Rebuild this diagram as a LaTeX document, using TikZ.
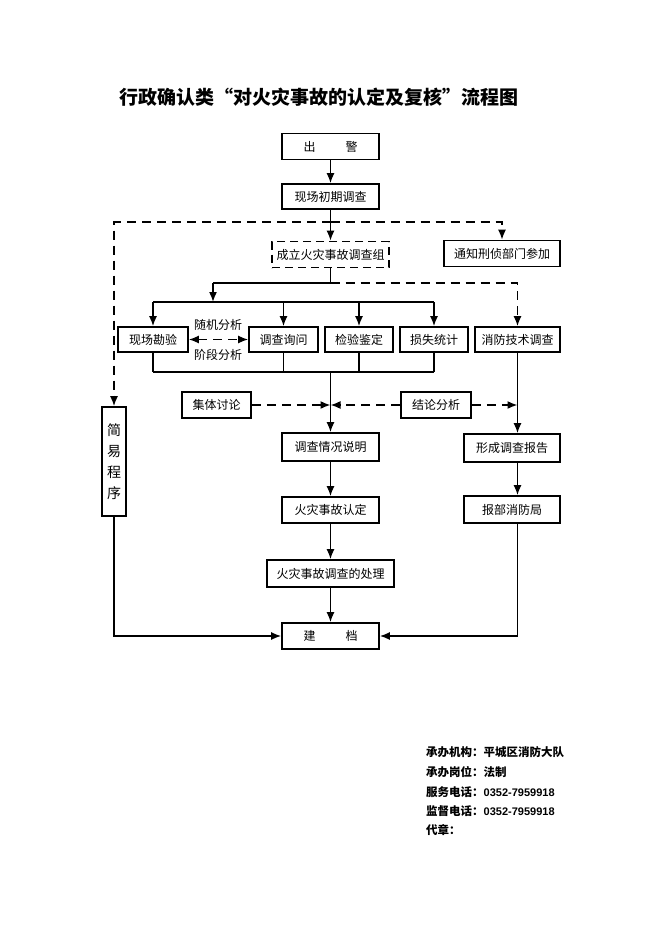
\documentclass[tikz,border=0pt]{standalone}
\usepackage{fontspec}
\newfontfamily\cjk{Noto Sans CJK SC}
\newfontfamily\num{Liberation Sans Bold}
\usetikzlibrary{arrows.meta}
\tikzset{
	box/.style={draw, line width=1.6pt, inner sep=0pt, minimum height=26pt, font=\cjk\fontsize{12}{14}\selectfont},
	dbox/.style={box, dash pattern=on 8pt off 5pt},
	arr/.style={-{Latex[length=10pt,width=8pt]}, line width=1.6pt},
	darr/.style={arr, dash pattern=on 9pt off 6pt},
	line/.style={line width=1.6pt},
	info/.style={anchor=west, inner sep=0pt, font=\cjk\bfseries\fontsize{11.5}{13}\selectfont}
}

\begin{document}
\begin{tikzpicture}[x=1pt,y=-1pt]
			\useasboundingbox (0,0) rectangle (662,936);
			\node (title) at (318.5,97) [font=\cjk\bfseries\fontsize{19}{21}\selectfont] {行政确认类“对火灾事故的认定及复核”流程图};
			%
			\node (chujing) at (330.5,146.5) [box, minimum width=97pt] {出\hspace{30pt}警};
			\node (chuqi) at (330.5,196.5) [box, minimum width=97pt, minimum height=25pt] {现场初期调查};
			\node (zu) at (330.5,254.5) [dbox, minimum width=117pt] {成立火灾事故调查组};
			\node (tongzhi) at (502,253.5) [box, minimum width=116pt] {通知刑侦部门参加};
			\node (kancha) at (153,339.5) [box, minimum width=70pt, minimum height=25pt] {现场勘验};
			\node (xunwen) at (283.5,339.5) [box, minimum width=69pt, minimum height=25pt] {调查询问};
			\node (jianyan) at (359,339.5) [box, minimum width=68pt, minimum height=25pt] {检验鉴定};
			\node (sunshi) at (434,339.5) [box, minimum width=68pt, minimum height=25pt] {损失统计};
			\node (jishu) at (517.5,339.5) [box, minimum width=85pt, minimum height=25pt] {消防技术调查};
			\node (suiji) at (218,325) [inner sep=0pt, font=\cjk\fontsize{12}{14}\selectfont] {随机分析};
			\node (jieduan) at (218,355) [inner sep=0pt, font=\cjk\fontsize{12}{14}\selectfont] {阶段分析};
			\node (taolun) at (216.5,405) [box, minimum width=69pt] {集体讨论};
			\node (jielun) at (436,405) [box, minimum width=70pt] {结论分析};
			\node (jianyi) at (114,461.5) [box, minimum width=24pt, minimum height=109pt, align=center, font=\cjk\fontsize{14}{21}\selectfont] {简\\易\\程\\序};
			\node (qingkuang) at (330.5,447) [box, minimum width=97pt, minimum height=28pt] {调查情况说明};
			\node (rending) at (330.5,510) [box, minimum width=97pt] {火灾事故认定};
			\node (chuli) at (330.5,573.5) [box, minimum width=127pt, minimum height=27pt] {火灾事故调查的处理};
			\node (jiandang) at (330.5,636) [box, minimum width=97pt] {建\hspace{30pt}档};
			\node (baogao) at (512,448) [box, minimum width=96pt, minimum height=28pt] {形成调查报告};
			\node (buju) at (512,509.5) [box, minimum width=96pt, minimum height=27pt] {报部消防局};
			%
			\coordinate (split1) at (330.5,222);
			\coordinate (split2) at (330.5,283);
			\coordinate (bus) at (213,302);
			\coordinate (join) at (330.5,372);
			%
			\draw[arr] (chujing) -- (chuqi);
			\draw[arr] (chuqi) -- (zu);
			\draw[darr] (split1) -| (tongzhi.north);
			\draw[darr] (split1) -| (jianyi.north);
			\draw[line] (zu.south) -- (split2) -| (bus |- split2);
			\draw[arr] (bus |- split2) -- (bus);
			\draw[darr] (split2) -| (jishu.north);
			\draw[line] (kancha.north |- bus) -- (sunshi.north |- bus);
			\foreach \n in {kancha,xunwen,jianyan,sunshi}{
					\draw[arr] (\n.north |- bus) -- (\n.north);
					\draw[line] (\n.south) -- (\n.south |- join);
				}
			\draw[line] (kancha.south |- join) -- (sunshi.south |- join);
			\draw[darr, {Latex[length=10pt,width=8pt]}-{Latex[length=10pt,width=8pt]}] (kancha) -- (xunwen);
			\draw[arr] (join) -- (qingkuang);
			\draw[darr] (taolun.east) -- (taolun.east -| join);
			\draw[darr] (jielun.west) -- (jielun.west -| join);
			\draw[darr] (jielun.east) -- (jielun.east -| jishu.south);
			\draw[arr] (jishu.south) -- (jishu.south |- baogao.north);
			\draw[arr] (baogao.south -| jishu.south) -- (buju.north -| jishu.south);
			\draw[arr] (qingkuang) -- (rending);
			\draw[arr] (rending) -- (chuli);
			\draw[arr] (chuli) -- (jiandang);
			\draw[arr] (jianyi.south) |- (jiandang.west);
			\draw[arr] (buju.south -| jishu.south) |- (jiandang.east);
			%
			\node (jigou) at (426,752) [info] {承办机构：平城区消防大队};
			\node (gangwei) at (426,772) [info] {承办岗位：法制};
			\node (fuwu) at (426,792) [info] {服务电话：{\num\fontsize{11}{13}\selectfont 0352-7959918}};
			\node (jiandu) at (426,811) [info] {监督电话：{\num\fontsize{11}{13}\selectfont 0352-7959918}};
			\node (daizhang) at (426,830) [info] {代章：};
		\end{tikzpicture}
\end{document}
